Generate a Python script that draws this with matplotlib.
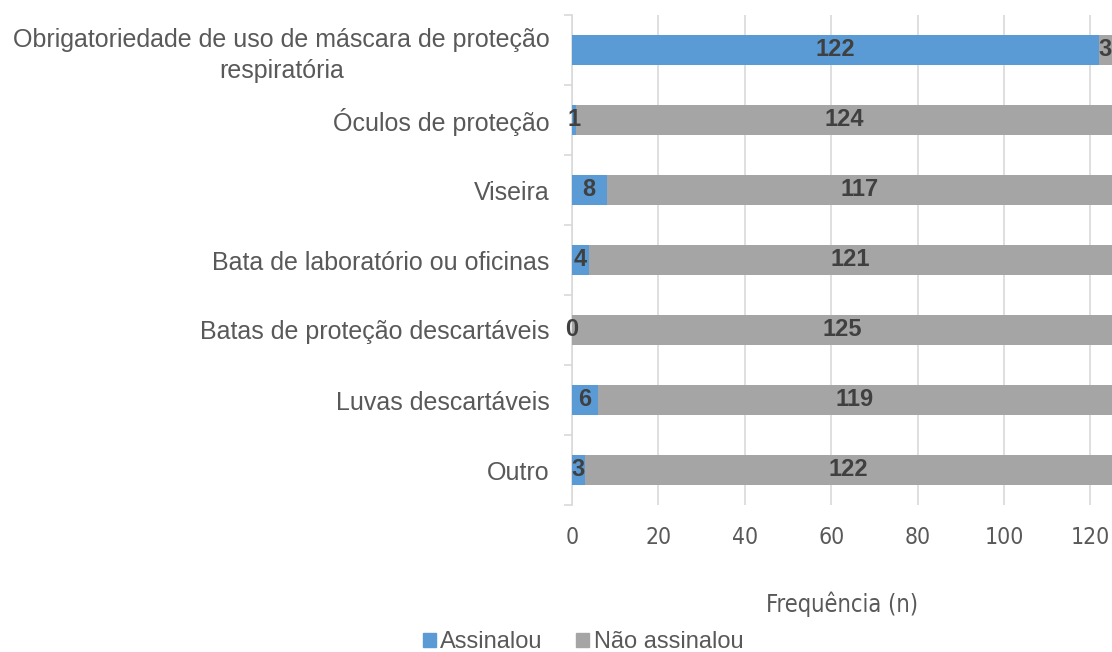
import matplotlib
matplotlib.use("Agg")
import matplotlib.pyplot as plt
import numpy as np
from matplotlib.patches import Patch

categories = [
    "Obrigatoriedade de uso de máscara de proteção\nrespiratória",
    "Óculos de proteção",
    "Viseira",
    "Bata de laboratório ou oficinas",
    "Batas de proteção descartáveis",
    "Luvas descartáveis",
    "Outro",
]
assinalou = [122, 1, 8, 4, 0, 6, 3]
nao_assinalou = [3, 124, 117, 121, 125, 119, 122]
xticks = [0, 20, 40, 60, 80, 100, 120]

BLUE = "#5B9BD5"
GRAY = "#A5A5A5"
TXT = "#595959"
LBL = "#404040"
GRID = "#D9D9D9"

narrow = ["DejaVu Sans", "Liberation Sans"]
sans = ["Liberation Sans", "DejaVu Sans"]

fig = plt.figure(figsize=(11.12, 6.52), dpi=100)
ax = fig.add_axes([572 / 1112, 1 - 505 / 652, 540 / 1112, 490 / 652])

y = np.arange(len(categories))
a = np.array(assinalou)
n = np.array(nao_assinalou)
h = 0.42
ax.barh(y, a, height=h, color=BLUE, zorder=3)
ax.barh(y, n, left=a, height=h, color=GRAY, zorder=3)

for yi, av, nv in zip(y, a, n):
    ax.text(av / 2, yi, str(av), ha="center", va="center", fontsize=17,
            fontweight="bold", color=LBL, family=sans, zorder=4)
    ax.text(av + nv / 2, yi, str(nv), ha="center", va="center", fontsize=17,
            fontweight="bold", color=LBL, family=sans, zorder=4)

ax.set_xlim(0, 125)
ax.set_ylim(len(categories) - 0.5, -0.5)
ax.set_xticks(xticks)
ax.set_xticklabels([str(t) for t in xticks], family=narrow, fontsize=16.5,
                   color=TXT, fontstretch="condensed")
ax.tick_params(axis="x", length=0, pad=15)

ax.set_yticks(y)
ax.set_yticklabels(categories, family=sans, fontsize=18, color=TXT,
                   multialignment="center", linespacing=1.35)
ax.tick_params(axis="y", which="major", length=0, pad=16)
ax.set_yticks(np.arange(-0.5, len(categories), 1.0), minor=True)
ax.tick_params(axis="y", which="minor", length=6, color=GRID, width=1.2)

ax.grid(axis="x", color=GRID, linewidth=1.2, zorder=0)
for s in ["top", "right", "bottom"]:
    ax.spines[s].set_visible(False)
ax.spines["left"].set_color(GRID)
ax.spines["left"].set_linewidth(1.2)

fig.text(842 / 1112, 1 - 604 / 652, "Frequência (n)", family=narrow, fontsize=17,
         color=TXT, ha="center", va="center", fontstretch="condensed")

handles = [Patch(color=BLUE, label="Assinalou"), Patch(color=GRAY, label="Não assinalou")]
fig.legend(handles=handles, loc="center", bbox_to_anchor=(583 / 1112, 1 - 642 / 652),
           ncol=2, frameon=False, prop={"family": sans, "size": 17},
           labelcolor=TXT, handlelength=0.55, handleheight=0.55, handletextpad=0.2,
           columnspacing=1.4, borderpad=0)

fig.savefig("out.png", dpi=100)
